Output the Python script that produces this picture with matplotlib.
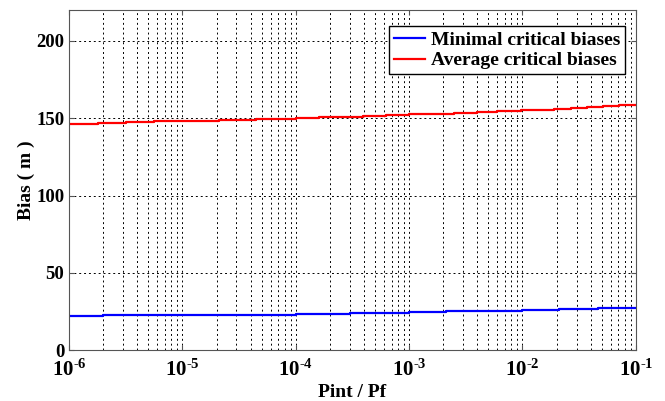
import numpy as np
import matplotlib.pyplot as plt
from matplotlib.ticker import FixedLocator, FuncFormatter, LogLocator, NullFormatter

plt.rcParams['font.family'] = 'Liberation Serif'
plt.rcParams['font.weight'] = 'bold'
plt.rcParams['mathtext.fontset'] = 'custom'
plt.rcParams['mathtext.rm'] = 'Liberation Serif:bold'
plt.rcParams['mathtext.bf'] = 'Liberation Serif:bold'
plt.rcParams['axes.unicode_minus'] = False

# step positions (Pint / Pf) and critical bias values (m)
min_x = [1e-6, 2.0e-6, 1e-5, 1e-4, 3.0e-4, 1e-3, 2.1e-3, 4.5e-3, 1e-2, 2.1e-2, 4.6e-2, 1e-1]
min_bias = [22.0, 22.6, 23.0, 23.5, 24.3, 24.5, 25.2, 25.6, 25.9, 26.5, 27.1, 27.1]

avg_x = [1e-6, 1.8e-6, 3.2e-6, 5.6e-6, 1e-5, 2.1e-5, 4.5e-5, 1e-4, 1.6e-4, 2.5e-4,
         3.9e-4, 6.2e-4, 1e-3, 1.6e-3, 2.5e-3, 4e-3, 6e-3, 9.8e-3, 1.35e-2, 1.9e-2,
         2.7e-2, 3.7e-2, 5.1e-2, 7.1e-2, 1e-1]
avg_bias = [146.5, 147.0, 147.5, 148.0, 148.5, 149.0, 149.5, 150.0, 150.5, 151.0,
            151.5, 152.0, 152.5, 153.0, 153.5, 154.0, 154.5, 155.0, 155.5, 156.0,
            156.6, 157.2, 157.8, 158.6, 158.6]

fig = plt.figure(figsize=(6.65, 4.01), dpi=100)
ax = fig.add_axes([0.1038, 0.127, 0.8523, 0.848])

ax.step(min_x, min_bias, where='post', color='blue', lw=1.6, label='Minimal critical biases')
ax.step(avg_x, avg_bias, where='post', color='red', lw=1.6, label='Average critical biases')

ax.set_xscale('log')
ax.set_xlim(1e-6, 1e-1)
ax.set_ylim(0, 220)
ax.set_yticks([0, 50, 100, 150, 200])
ax.xaxis.set_major_locator(FixedLocator([1e-6, 1e-5, 1e-4, 1e-3, 1e-2, 1e-1]))
ax.xaxis.set_minor_locator(LogLocator(base=10, subs=np.arange(2, 10)))
ax.xaxis.set_minor_formatter(NullFormatter())
ax.xaxis.set_major_formatter(FuncFormatter(lambda v, p: r'$\mathbf{10^{\text{-}%d}}$' % abs(round(np.log10(v)))))

ax.grid(True, which='major', axis='both', color='black', linestyle=(0, (2, 3)), lw=0.7)
ax.grid(True, which='minor', axis='x', color='black', linestyle=(0, (2, 3)), lw=0.7)

ax.tick_params(which='both', direction='in', top=True, right=True, colors='#555555',
               labelcolor='black', labelsize=13.5)
ax.tick_params(which='minor', length=0)
ax.tick_params(axis='x', pad=7, labelsize=15)
for s in ax.spines.values():
    s.set_color('#555555')

ax.set_xlabel('Pint / Pf', fontsize=14, fontweight='bold', labelpad=2)
ax.set_ylabel('Bias ( m )', fontsize=14, fontweight='bold', labelpad=1)

leg = ax.legend(loc='upper right', bbox_to_anchor=(0.981, 0.952), fontsize=14,
                fancybox=False, framealpha=1, edgecolor='black', borderaxespad=0,
                handlelength=1.6, borderpad=0.25, labelspacing=0.15, handletextpad=0.3)
leg.get_frame().set_linewidth(1.0)

fig.savefig('out.png', dpi=100)
